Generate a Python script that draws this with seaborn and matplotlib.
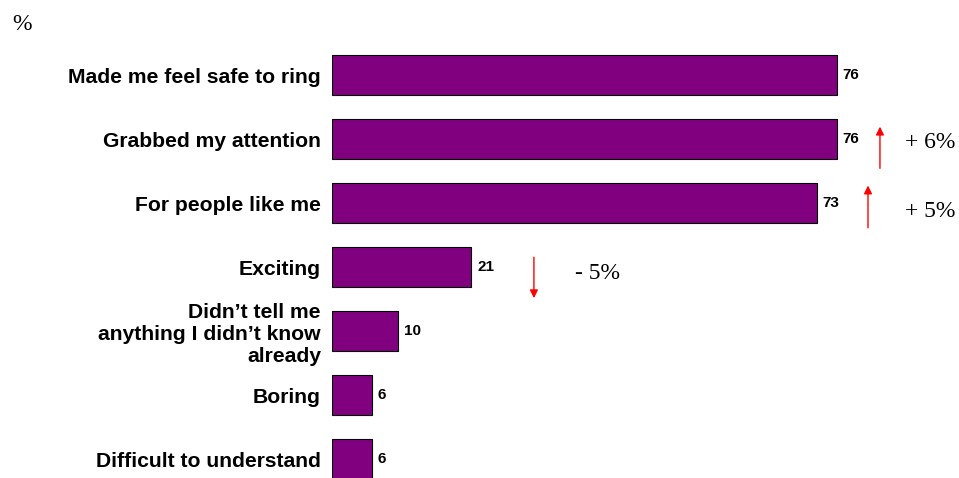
import matplotlib
matplotlib.use("Agg")
import matplotlib.pyplot as plt
import seaborn as sns
import pandas as pd

categories = [
    "Made me feel safe to ring",
    "Grabbed my attention",
    "For people like me",
    "Exciting",
    "Didn\u2019t tell me\nanything I didn\u2019t know\nalready",
    "Boring",
    "Difficult to understand",
]
values = [76, 76, 73, 21, 10, 6, 6]

# change markers: category index, direction, label
change_rows = [1, 2, 3]
change_dirs = ["up", "up", "down"]
change_labels = ["+ 6%", "+ 5%", "- 5%"]

sns.set_theme(style="white")
plt.rcParams["font.family"] = ["Liberation Sans", "DejaVu Sans"]
plt.rcParams["text.color"] = "black"
plt.rcParams["ytick.color"] = "black"

df = pd.DataFrame({"category": categories, "value": values})

fig = plt.figure(figsize=(9.59, 4.78), dpi=100)
ax = fig.add_axes([332 / 959, 0.0, 1 - 332 / 959, (478 - 43.5) / 478])

sns.barplot(data=df, x="value", y="category", orient="h", color="#800080",
            saturation=1, width=0.625, edgecolor="black", linewidth=0.8, ax=ax)

ax.set_xlim(0, 94.4)
ax.set_ylim(6.29, -0.5)
ax.set_xlabel("")
ax.set_ylabel("")
ax.set_xticks([])
sns.despine(ax=ax, left=True, bottom=True)
ax.tick_params(axis="y", length=0, pad=8)
for lab in ax.get_yticklabels():
    lab.set_fontweight("bold")
    lab.set_fontsize(15.2)
    lab.set_color("black")
    lab.set_horizontalalignment("right")
    lab.set_multialignment("right")

for i, v in enumerate(values):
    ax.text(v + 0.9, i, str(v), va="center", ha="left",
            fontsize=11, fontweight="bold", color="black")

# arrow positions (x in value units, y span in category units)
arrow_x = [82.5, 80.7, 30.4]
arrow_y = [(1.45, 0.80), (2.38, 1.72), (2.84, 3.48)]
label_pos = [(90.0, 1.05), (90.0, 2.12), (39.9, 3.09)]
for ax_x, (y0, y1), (tx, ty), lab in zip(arrow_x, arrow_y, label_pos, change_labels):
    ax.annotate("", xy=(ax_x, y1), xytext=(ax_x, y0),
                arrowprops=dict(arrowstyle="-|>", color="red", lw=1.0,
                                mutation_scale=12, shrinkA=0, shrinkB=0))
    ax.text(tx, ty, lab, ha="center", va="center", fontsize=17,
            family="Liberation Serif", color="black")

fig.text(12 / 959, 1 - 24 / 478, "%", ha="left", va="center", fontsize=17,
         family="Liberation Serif", color="black")

fig.savefig("out.png", dpi=100)
